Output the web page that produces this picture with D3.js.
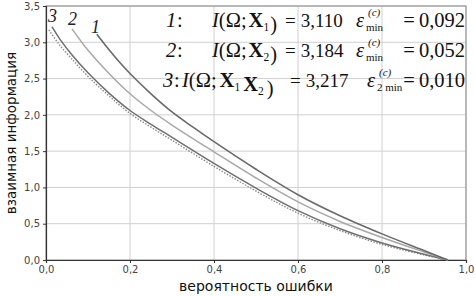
<!DOCTYPE html>
<html>
<head>
<meta charset="utf-8">
<script src="https://cdn.jsdelivr.net/npm/d3@7"></script>
<style>
  body { margin: 0; background: #fff; }
  svg { display: block; }
</style>
</head>
<body>
<div id="chart"></div>
<script>
// ошибка -> информация
const err1 = [0.121, 0.14, 0.17, 0.2, 0.25, 0.3, 0.35, 0.4, 0.5, 0.6, 0.7, 0.8, 0.9, 0.957];
const info1 = [3.11, 2.97, 2.76, 2.57, 2.29, 2.04, 1.83, 1.63, 1.25, 0.90, 0.61, 0.36, 0.13, 0.0];

const err2 = [0.062, 0.08, 0.1, 0.15, 0.2, 0.25, 0.3, 0.4, 0.5, 0.6, 0.7, 0.8, 0.9, 0.957];
const info2 = [3.184, 3.04, 2.89, 2.57, 2.29, 2.06, 1.86, 1.49, 1.13, 0.80, 0.53, 0.31, 0.11, 0.0];

const err3 = [0.014, 0.036, 0.06, 0.1, 0.15, 0.2, 0.25, 0.3, 0.4, 0.5, 0.6, 0.7, 0.8, 0.9, 0.957];
const info3 = [3.217, 3.02, 2.84, 2.58, 2.30, 2.06, 1.87, 1.69, 1.33, 0.99, 0.68, 0.43, 0.235, 0.08, 0.0];

const errD = [0.007, 0.03, 0.06, 0.1, 0.15, 0.2, 0.25, 0.3, 0.4, 0.5, 0.6, 0.7, 0.8, 0.9, 0.957];
const infoD = [3.17, 2.98, 2.78, 2.53, 2.26, 2.02, 1.83, 1.65, 1.29, 0.95, 0.645, 0.405, 0.215, 0.07, 0.0];

const xTicks = [0, 0.2, 0.4, 0.6, 0.8, 1.0];
const yTicks = [0, 0.5, 1.0, 1.5, 2.0, 2.5, 3.0, 3.5];

const width = 475, height = 296;
const margin = { top: 6, right: 9, bottom: 36, left: 46 };

const svg = d3.select('#chart').append('svg')
  .attr('width', width)
  .attr('height', height);

const x = d3.scaleLinear().domain([0, 1]).range([margin.left, width - margin.right]);
const y = d3.scaleLinear().domain([0, 3.5]).range([height - margin.bottom, margin.top]);

const fmt = d => d3.format('.1f')(d).replace('.', ',');

// сетка
svg.append('g')
  .selectAll('line')
  .data(xTicks.slice(1))
  .join('line')
  .attr('x1', d => x(d)).attr('x2', d => x(d))
  .attr('y1', y(0)).attr('y2', y(3.5))
  .attr('stroke', '#d0d0d0').attr('stroke-width', 1);

svg.append('g')
  .selectAll('line')
  .data(yTicks.slice(1))
  .join('line')
  .attr('x1', x(0)).attr('x2', x(1))
  .attr('y1', d => y(d)).attr('y2', d => y(d))
  .attr('stroke', '#d0d0d0').attr('stroke-width', 1);

// рамка
svg.append('rect')
  .attr('x', x(0)).attr('y', y(3.5))
  .attr('width', x(1) - x(0)).attr('height', y(0) - y(3.5))
  .attr('fill', 'none').attr('stroke', '#888').attr('stroke-width', 1);

// оси
const xAxis = svg.append('g')
  .attr('transform', `translate(0,${y(0)})`)
  .call(d3.axisBottom(x).tickValues(xTicks).tickFormat(fmt).tickSize(3).tickPadding(3));
const yAxis = svg.append('g')
  .attr('transform', `translate(${x(0)},0)`)
  .call(d3.axisLeft(y).tickValues(yTicks).tickFormat(fmt).tickSize(3).tickPadding(3));

[xAxis, yAxis].forEach(a => {
  a.select('.domain').attr('stroke', '#333').attr('stroke-width', 1.2);
  a.selectAll('.tick line').attr('stroke', '#333');
  a.selectAll('.tick text')
    .attr('fill', '#444')
    .attr('font-family', 'DejaVu Sans, sans-serif')
    .attr('font-size', 10);
});

// подписи осей
svg.append('text')
  .attr('x', x(0.5)).attr('y', 291)
  .attr('text-anchor', 'middle')
  .attr('font-family', 'DejaVu Sans, sans-serif')
  .attr('font-size', 14)
  .attr('fill', '#111')
  .text('вероятность ошибки');

svg.append('text')
  .attr('transform', `translate(16,${(y(0) + y(3.5)) / 2}) rotate(-90)`)
  .attr('text-anchor', 'middle')
  .attr('font-family', 'DejaVu Sans, sans-serif')
  .attr('font-size', 13.5)
  .attr('fill', '#111')
  .text('взаимная информация');

// кривые
const line = d3.line().x(d => x(d[0])).y(d => y(d[1])).curve(d3.curveCatmullRom.alpha(0.5));
const series = [
  { e: errD, v: infoD, color: '#8a8a8a', dash: '1.5,1.5', w: 1.4 },
  { e: err3, v: info3, color: '#707070', dash: null, w: 1.5 },
  { e: err2, v: info2, color: '#a8a8a8', dash: null, w: 1.5 },
  { e: err1, v: info1, color: '#6a6a6a', dash: null, w: 1.6 }
];

svg.append('g')
  .selectAll('path')
  .data(series)
  .join('path')
  .attr('d', s => line(d3.zip(s.e, s.v)))
  .attr('fill', 'none')
  .attr('stroke', s => s.color)
  .attr('stroke-width', s => s.w)
  .attr('stroke-dasharray', s => s.dash);

// номера кривых
const serif = 'Liberation Serif, Times New Roman, serif';
const numLabels = [
  { t: '3', px: 48, py: 22 },
  { t: '2', px: 68, py: 25 },
  { t: '1', px: 91, py: 33 }
];
svg.append('g')
  .selectAll('text')
  .data(numLabels)
  .join('text')
  .attr('x', d => d.px).attr('y', d => d.py)
  .attr('font-family', serif)
  .attr('font-style', 'italic')
  .attr('font-size', 18)
  .attr('fill', '#222')
  .text(d => d.t);

// формулы
const rows = [
  { n: '1', xs: ['1'], val: '3,110', eps: '0,092', epsSub: 'min' },
  { n: '2', xs: ['2'], val: '3,184', eps: '0,052', epsSub: 'min' },
  { n: '3', xs: ['1', '2'], val: '3,217', eps: '0,010', epsSub: '2 min' }
];
const baselines = [27, 57, 87];
const fs = 20.5;

const fg = svg.append('g')
  .attr('font-family', serif)
  .attr('fill', '#111');

rows.forEach((r, i) => {
  const b = baselines[i];
  const last = i === 2;
  const nx = last ? 163 : 166;
  fg.append('text').attr('x', nx).attr('y', b).attr('font-size', fs)
    .attr('font-style', 'italic').text(r.n);
  fg.append('text').attr('x', nx + 11).attr('y', b).attr('font-size', fs).text(':');

  const t = fg.append('text')
    .attr('x', last ? 182 : 212).attr('y', b)
    .attr('font-size', fs);
  t.append('tspan').attr('font-style', 'italic').text('I');
  t.append('tspan').text('(Ω;');
  r.xs.forEach((s, k) => {
    t.append('tspan').attr('font-weight', 'bold').attr('dx', last ? 3 : 2).text('X');
    t.append('tspan').attr('font-size', 11.5).attr('dy', 4).text(s);
    t.append('tspan').attr('dy', -4).text('');
  });
  t.append('tspan').attr('dx', last ? 3 : 1).text(')');

  const v = fg.append('text').attr('x', last ? 290 : 285).attr('y', b)
    .attr('font-size', 19);
  v.append('tspan').text('=');
  v.append('tspan').attr('dx', 5).text(r.val);

  const ex = last ? 367 : 356;
  fg.append('text')
    .attr('x', ex).attr('y', b)
    .attr('font-size', fs).attr('font-style', 'italic')
    .text('ε');
  fg.append('text')
    .attr('x', ex + 12).attr('y', b - 11)
    .attr('font-size', 11).attr('font-style', 'italic')
    .text('(c)');
  fg.append('text')
    .attr('x', ex + 10).attr('y', b + 4)
    .attr('font-size', 11)
    .text(r.epsSub);
  const e = fg.append('text')
    .attr('x', 465).attr('y', b)
    .attr('text-anchor', 'end')
    .attr('font-size', fs);
  e.append('tspan').text('=');
  e.append('tspan').attr('dx', 4).text(r.eps);
});
</script>
</body>
</html>
